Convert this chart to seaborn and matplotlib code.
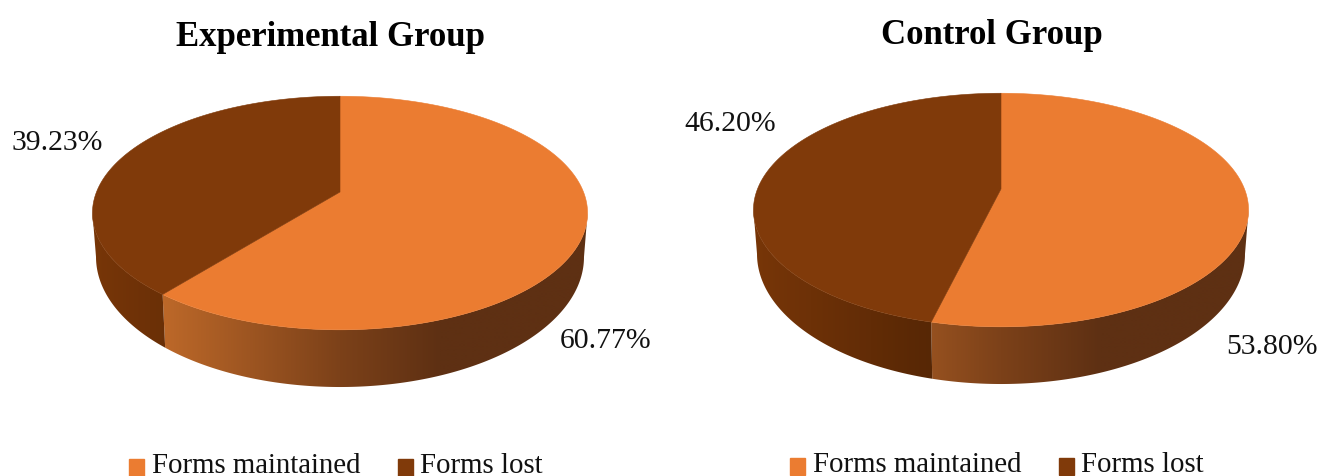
import numpy as np
import matplotlib
matplotlib.use("Agg")
import matplotlib.pyplot as plt
from matplotlib.colors import to_rgb
from matplotlib.legend_handler import HandlerPatch
from matplotlib.patches import Patch, Polygon, Rectangle
import seaborn as sns

# Chart content
groups = ["Experimental Group", "Control Group"]
categories = ["Forms maintained", "Forms lost"]
experimental_values = [60.77, 39.23]
control_values = [53.80, 46.20]

sns.set_theme(style="white")
plt.rcParams["font.family"] = ["Liberation Serif", "DejaVu Serif"]
palette = sns.color_palette(["#EB7C31", "#803A0A"])

W, H = 1322, 477
fig = plt.figure(figsize=(W / 100, H / 100), dpi=100, facecolor="white")

# Perspective model of the disc: top rim and bottom rim, in pixels around the hub
TOP = dict(a=243.5, b=113.0, k=0.18, dy=0.0)
BOTTOM = dict(a=240.0, b=125.8, k=0.18, dy=41.6)

# Side-wall shading: (offset from hub in px, colour) stops per slice
WALL_STOPS = [
    ([-175, 0, 100, 250], ["#BC6829", "#7C4119", "#5E3013", "#5E3013"]),
    ([-250, -70, 250], ["#783608", "#572705", "#572705"]),
]


def rim(theta, m):
    """Project a clockwise-from-top angle onto a rim; y grows downward."""
    s = np.cos(theta)
    w = 1 + m["k"] * s
    return m["a"] * np.sin(theta) / w, m["dy"] - m["b"] * s / w


def front_arc(start, stop, m):
    """Part of a slice's arc on the near side of a rim's widest points."""
    near = np.arccos(-m["k"])
    lo, hi = max(start, near), min(stop, 2 * np.pi - near)
    return np.linspace(lo, hi, 300)


def square_marker(legend, orig_handle, xdescent, ydescent, width, height, fontsize):
    return Rectangle((-xdescent, -ydescent - 4.0), width, height)


def draw_pie(ax, values, cx, cy):
    fractions = np.asarray(values) / sum(values)
    edges = np.concatenate([[0], np.cumsum(fractions)]) * 2 * np.pi
    offsets = np.arange(-260, 261)

    # side wall: a horizontal gradient clipped to each slice's outline
    for i in range(len(values)):
        xt, yt = rim(front_arc(edges[i], edges[i + 1], TOP), TOP)
        xb, yb = rim(front_arc(edges[i], edges[i + 1], BOTTOM)[::-1], BOTTOM)
        outline = np.column_stack([cx + np.r_[xt, xb], cy + np.r_[yt, yb]])
        xs, cols = WALL_STOPS[i]
        rgb = np.array([to_rgb(c) for c in cols])
        strip = np.stack([np.interp(offsets, xs, rgb[:, j]) for j in range(3)], axis=-1)
        im = ax.imshow(strip[np.newaxis, :, :], aspect="auto", zorder=2,
                       extent=(cx + offsets[0], cx + offsets[-1], cy + 230, cy - 60),
                       interpolation="bilinear")
        im.set_clip_path(Polygon(outline, closed=True, transform=ax.transData))

    # top face
    for i in range(len(values)):
        th = np.linspace(edges[i], edges[i + 1], 300)
        x, y = rim(th, TOP)
        ax.fill(np.r_[cx, cx + x], np.r_[cy, cy + y],
                color=palette[i], lw=0.4, zorder=3)


def draw_panel(rect, xlim, title, values, hub, title_xy, label_xy, legend_xy):
    ax = fig.add_axes(rect)
    draw_pie(ax, values, *hub)
    ax.set_xlim(*xlim)
    ax.set_ylim(H, 0)
    ax.axis("off")
    ax.text(*title_xy, title, fontsize=25, fontweight="bold",
            color="black", ha="center", va="center")
    for value, xy in zip(values, label_xy):
        ax.text(*xy, f"{value:.2f}%", fontsize=21.4, color="#111111",
                ha="center", va="center")
    handles = [Patch(color=c, label=n) for c, n in zip(palette, categories)]
    ax.legend(handles=handles, ncol=2, frameon=False, fontsize=20.8,
              loc="center", bbox_to_anchor=legend_xy,
              bbox_transform=ax.transData, handlelength=0.52,
              handleheight=0.52, handletextpad=0.26, columnspacing=1.3,
              labelcolor="#111111",
              handler_map={Patch: HandlerPatch(patch_func=square_marker)})
    return ax


draw_panel([0, 0, 0.5, 1], (0, W / 2), groups[0], experimental_values,
           (340, 193), (331, 38), [(606, 341), (57, 143)], (336, 466))
draw_panel([0.5, 0, 0.5, 1], (W / 2, W), groups[1], control_values,
           (1001, 190), (992, 36), [(1272, 347), (730, 124)], (997, 465))

fig.savefig("out.png", dpi=100, facecolor="white")
